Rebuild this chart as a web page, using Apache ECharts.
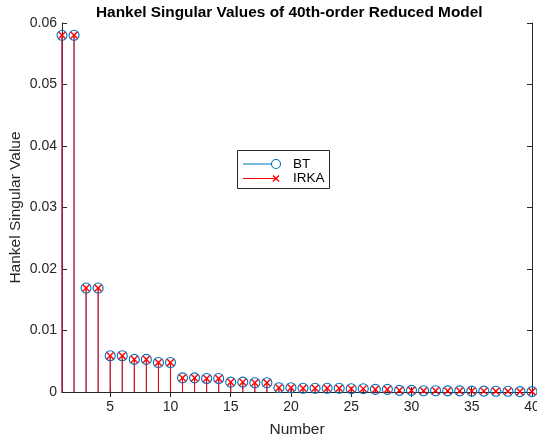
<!DOCTYPE html>
<html>
<head>
<meta charset="utf-8">
<script src="https://cdn.jsdelivr.net/npm/echarts@6/dist/echarts.min.js"></script>
<style>
html,body{margin:0;padding:0;background:#fff;}
#chart{width:537px;height:439px;}
</style>
</head>
<body>
<div id="chart"></div>
<script>
var numbers = [1,2,3,4,5,6,7,8,9,10,11,12,13,14,15,16,17,18,19,20,21,22,23,24,25,26,27,28,29,30,31,32,33,34,35,36,37,38,39,40];
var btValues = [0.0580,0.0580,0.0169,0.0169,0.0059,0.0059,0.0053,0.0053,0.0048,0.0048,
  0.0023,0.0023,0.0022,0.0022,0.0016,0.0016,0.0015,0.0015,0.0007,0.0007,
  0.0006,0.0006,0.0006,0.0006,0.00054,0.00054,0.00043,0.00043,0.00027,0.00027,
  0.0002,0.0002,0.00018,0.00018,0.00015,0.00015,0.00012,0.00012,0.00006,0.00006];
var irkaValues = [0.0580,0.0580,0.0169,0.0169,0.0059,0.0059,0.0053,0.0053,0.0048,0.0048,
  0.0023,0.0023,0.0022,0.0022,0.0016,0.0016,0.0015,0.0015,0.0007,0.0007,
  0.0006,0.0006,0.0006,0.0006,0.00054,0.00054,0.00043,0.00043,0.00027,0.00027,
  0.0002,0.0002,0.00018,0.00018,0.00015,0.00015,0.00012,0.00012,0.00006,0.00006];
var xTicks = [5,10,15,20,25,30,35,40];
var seriesNames = ['BT','IRKA'];

var blue = '#0072BD', red = '#FF0000', axisColor = '#262626';
var font = 'Liberation Sans, Arial, Helvetica, sans-serif';

var chart = echarts.init(document.getElementById('chart'), null, {renderer:'canvas'});

function pairs(vals){ return numbers.map(function(n,i){ return [n, vals[i]]; }); }

function stemRender(kind){
  return function(params, api){
    var x = api.value(0), y = api.value(1);
    var p = api.coord([x, y]);
    var b = api.coord([x, 0]);
    var color = kind === 'bt' ? blue : red;
    var children = [{
      type:'line', shape:{x1:p[0],y1:b[1],x2:p[0],y2:p[1]},
      style:{stroke:color, lineWidth:1}
    }];
    if (kind === 'bt') {
      children.push({type:'circle', shape:{cx:p[0],cy:p[1],r:5},
        style:{stroke:blue, fill:null, lineWidth:1.1}});
    } else {
      var s = 3.3;
      children.push({type:'line', shape:{x1:p[0]-s,y1:p[1]-s,x2:p[0]+s,y2:p[1]+s},
        style:{stroke:red, lineWidth:1.4}});
      children.push({type:'line', shape:{x1:p[0]-s,y1:p[1]+s,x2:p[0]+s,y2:p[1]-s},
        style:{stroke:red, lineWidth:1.4}});
    }
    return {type:'group', children:children};
  };
}

var axisLineStyle = {lineStyle:{color:axisColor, width:1}};
var option = {
  backgroundColor:'#fff',
  animation:false,
  title:{
    text:'Hankel Singular Values of 40th-order Reduced Model',
    left:96, top:5, padding:0,
    textStyle:{fontFamily:font, fontWeight:'bold', fontSize:15.4, color:'#000'}
  },
  grid:{left:62, right:5, top:23, bottom:47, containLabel:false, outerBoundsMode:'none'},
  xAxis:[{
    type:'value', min:1, max:40, position:'bottom',
    name:'Number', nameLocation:'middle', nameGap:30, nameMoveOverlap:false,
    nameTextStyle:{fontFamily:font, fontSize:15.5, color:axisColor},
    axisLine:axisLineStyle,
    axisTick:{inside:true, length:5, customValues:xTicks, lineStyle:{color:axisColor}},
    axisLabel:{customValues:xTicks, fontFamily:font, fontSize:14, color:axisColor, margin:8},
    splitLine:{show:false}
  },{
    type:'value', min:1, max:40, position:'top',
    axisLine:axisLineStyle,
    axisTick:{inside:true, length:5, customValues:xTicks, lineStyle:{color:axisColor}},
    axisLabel:{show:false}, splitLine:{show:false}
  }],
  yAxis:[{
    type:'value', min:0, max:0.06, interval:0.01, position:'left',
    name:'Hankel Singular Value', nameLocation:'middle', nameGap:38, nameMoveOverlap:false,
    nameTextStyle:{fontFamily:font, fontSize:15.5, color:axisColor},
    axisLine:{show:true, lineStyle:{color:axisColor, width:1}},
    axisTick:{show:true, inside:true, length:5, lineStyle:{color:axisColor}},
    axisLabel:{fontFamily:font, fontSize:14, color:axisColor, margin:5,
      formatter:function(v){ return v === 0 ? '0' : v.toFixed(2); }},
    splitLine:{show:false}
  },{
    type:'value', min:0, max:0.06, interval:0.01, position:'right',
    axisLine:{show:true, lineStyle:{color:axisColor, width:1}},
    axisTick:{show:true, inside:true, length:5, lineStyle:{color:axisColor}},
    axisLabel:{show:false}, splitLine:{show:false}
  }],
  series:[{
    name:seriesNames[0], type:'custom', renderItem:stemRender('bt'),
    data:pairs(btValues), clip:false, z:2
  },{
    name:seriesNames[1], type:'custom', renderItem:stemRender('irka'),
    data:pairs(irkaValues), clip:false, z:3
  }],
  graphic:[{
    type:'group', left:237, top:150, z:100,
    children:[
      {type:'rect', shape:{x:0.5,y:0.5,width:92,height:38}, style:{fill:'#fff', stroke:axisColor, lineWidth:1}},
      {type:'line', shape:{x1:6,y1:14,x2:39,y2:14}, style:{stroke:blue, lineWidth:1}},
      {type:'circle', shape:{cx:39,cy:14,r:4.5}, style:{stroke:blue, fill:'#fff', lineWidth:1.1}},
      {type:'line', shape:{x1:6,y1:28.5,x2:39,y2:28.5}, style:{stroke:red, lineWidth:1}},
      {type:'line', shape:{x1:36,y1:25.5,x2:42,y2:31.5}, style:{stroke:red, lineWidth:1.4}},
      {type:'line', shape:{x1:36,y1:31.5,x2:42,y2:25.5}, style:{stroke:red, lineWidth:1.4}},
      {type:'text', x:56, y:14, style:{text:seriesNames[0], fontFamily:font, fontSize:13.5, fill:'#000', textVerticalAlign:'middle'}},
      {type:'text', x:56, y:28.5, style:{text:seriesNames[1], fontFamily:font, fontSize:13.5, fill:'#000', textVerticalAlign:'middle'}}
    ]
  }]
};
chart.setOption(option);
</script>
</body>
</html>
